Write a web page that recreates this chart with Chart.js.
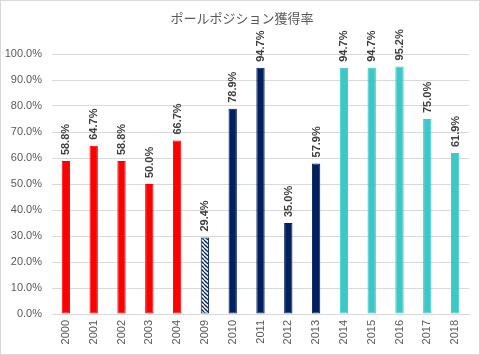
<!DOCTYPE html>
<html><head><meta charset="utf-8">
<script src="https://cdn.jsdelivr.net/npm/chart.js@4"></script>
<style>
html,body{margin:0;padding:0;background:#fff;}
#wrap{position:relative;width:480px;height:355px;}
#wrap:after{content:"";position:absolute;left:0;top:0;width:478px;height:353px;border:1px solid #D9D9D9;pointer-events:none;}
</style></head>
<body><div id="wrap"><canvas id="c" width="480" height="355"></canvas></div>
<script>
const title = 'ポールポジション獲得率';
const years = ['2000','2001','2002','2003','2004','2009','2010','2011','2012','2013','2014','2015','2016','2017','2018'];
const rates = [58.8, 64.7, 58.8, 50.0, 66.7, 29.4, 78.9, 94.7, 35.0, 57.9, 94.7, 94.7, 95.2, 75.0, 61.9];
const yTicks = [0,10,20,30,40,50,60,70,80,90,100];

const RED = '#FF0000', NAVY = '#002060', TEAL = '#3CC8C8';
function hatch(){
  const s = 4, c = document.createElement('canvas');
  c.width = s; c.height = s;
  const x = c.getContext('2d');
  x.fillStyle = '#fff'; x.fillRect(0,0,s,s);
  x.strokeStyle = NAVY; x.lineWidth = 1.3;
  for (const k of [-s,0,s]) { x.beginPath(); x.moveTo(k,0); x.lineTo(k+s,s); x.stroke(); }
  return document.getElementById('c').getContext('2d').createPattern(c,'repeat');
}
const pat = hatch();
const bg = years.map(y => { const n=+y; return n<=2004?RED:(n===2009?pat:(n<=2013?NAVY:TEAL)); });
const bd = years.map(y => { const n=+y; return n<=2004?RED:(n===2009?NAVY:(n<=2013?NAVY:TEAL)); });

const labelPlugin = {
  id:'vlabels',
  afterDatasetsDraw(chart){
    const ctx = chart.ctx, meta = chart.getDatasetMeta(0);
    ctx.save();
    ctx.font = 'bold 11px "Liberation Sans", Arial, sans-serif';
    ctx.fillStyle = '#404040';
    ctx.textAlign = 'left'; ctx.textBaseline = 'middle';
    meta.data.forEach((bar,i)=>{
      ctx.save();
      ctx.translate(bar.x+0.5, bar.y-6);
      ctx.rotate(-Math.PI/2);
      ctx.fillText(rates[i].toFixed(1)+'%',0,0);
      ctx.restore();
    });
    ctx.font = '13px "Noto Sans CJK JP", sans-serif';
    ctx.fillStyle = '#595959';
    ctx.textAlign = 'center'; ctx.textBaseline = 'middle';
    ctx.fillText(title, 242, 18);
    ctx.restore();
  }
};

new Chart(document.getElementById('c'), {
  type:'bar',
  data:{ labels: years, datasets:[{ data: rates, backgroundColor: bg, borderColor: bd, borderWidth: 1, borderSkipped:false, barPercentage:0.3, categoryPercentage:1 }]},
  options:{
    responsive:false, animation:false,
    layout:{ padding:{ left:0, right:11, top:54, bottom:0 } },
    plugins:{ legend:{display:false}, tooltip:{enabled:false}, title:{display:false} },
    scales:{
      x:{
        grid:{ display:false, drawTicks:false },
        border:{ display:true, color:'#D9D9D9' },
        ticks:{ color:'#595959', font:{ family:'"Liberation Sans", Arial, sans-serif', size:11 }, minRotation:90, maxRotation:90, padding:6, autoSkip:false },
        afterFit(s){ s.height = 41; }
      },
      y:{
        min:0, max:100,
        afterBuildTicks(s){ s.ticks = yTicks.map(v=>({value:v})); },
        grid:{ color:'#D9D9D9', drawTicks:false },
        border:{ display:false },
        ticks:{ color:'#595959', font:{ family:'"Liberation Sans", Arial, sans-serif', size:11 }, padding:10, callback:v=>v.toFixed(1)+'%' },
        afterFit(s){ s.width = 52; }
      }
    }
  },
  plugins:[labelPlugin]
});
</script></body></html>
